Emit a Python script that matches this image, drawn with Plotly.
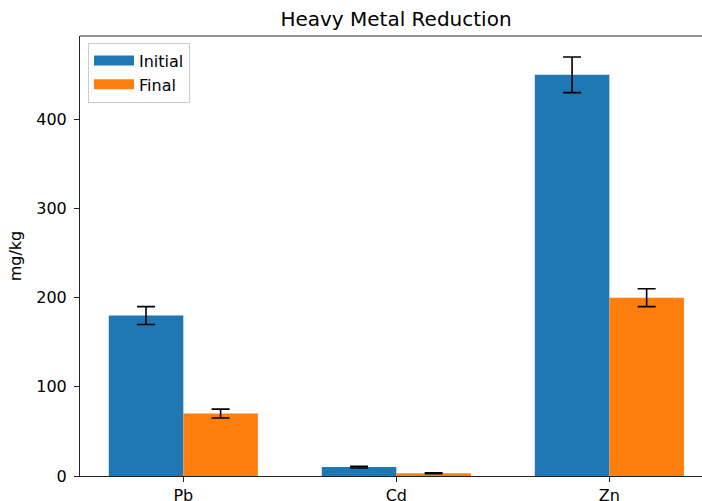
import plotly.graph_objects as go

metals = ["Pb", "Cd", "Zn"]
initial = [180, 10, 450]
initial_err = [10, 1, 20]
final = [70, 3, 200]
final_err = [5, 0.5, 10]
y_ticks = [0, 100, 200, 300, 400]
series_names = ["Initial", "Final"]
series_colors = ["#1f77b4", "#ff7f0e"]

FONT = "DejaVu Sans"
AX = "#222222"

fig = go.Figure()
for name, vals, errs, col in zip(series_names, [initial, final], [initial_err, final_err], series_colors):
    fig.add_trace(go.Bar(
        x=metals, y=vals, name=name, marker_color=col, marker_line_width=0, showlegend=False,
        error_y=dict(type="data", array=errs, visible=True, color="black", thickness=1.6, width=9),
    ))
for name, col in zip(series_names, series_colors):
    fig.add_trace(go.Scatter(
        x=[None], y=[None], mode="lines", name=name,
        line=dict(color=col, width=11), hoverinfo="skip",
    ))

fig.update_layout(
    width=718, height=501,
    margin=dict(l=80, r=0, t=36, b=25, autoexpand=False),
    paper_bgcolor="white", plot_bgcolor="white",
    barmode="group", bargap=0.3, bargroupgap=0,
    font=dict(family=FONT, size=16, color="black"),
    title=dict(text="Heavy Metal Reduction", x=316 / 638, xref="paper", xanchor="center",
               y=1 - 19 / 501, yref="container", yanchor="middle", automargin=False,
               font=dict(family=FONT, size=20, color="black")),
    legend=dict(x=8 / 638, y=0.985, xanchor="left", yanchor="top",
                bgcolor="rgba(255,255,255,0.8)", bordercolor="#cccccc", borderwidth=1,
                font=dict(family=FONT, size=16, color="black"), itemwidth=40),
    showlegend=True,
)
fig.update_xaxes(
    type="category", range=[-0.485, 2.51], showgrid=False, zeroline=False,
    showline=True, linecolor=AX, linewidth=1.1, automargin=False,
    ticks="outside", ticklen=5, tickwidth=1.1, tickcolor=AX,
    tickfont=dict(family=FONT, size=16, color="black"),
)
fig.update_yaxes(
    range=[0, 493.5], tickvals=y_ticks, showgrid=False, zeroline=False,
    showline=True, linecolor=AX, linewidth=1.1, automargin=False,
    ticks="outside", ticklen=5, tickwidth=1.1, tickcolor=AX, ticklabelstandoff=4,
    tickfont=dict(family=FONT, size=16, color="black"),
    title=dict(text="mg/kg", standoff=10, font=dict(family=FONT, size=16, color="black")),
)
fig.add_shape(type="line", xref="paper", yref="paper", x0=0, x1=1, y0=1, y1=1,
              line=dict(color=AX, width=1.1))

fig.write_html(
    "out.html",
    config={"displayModeBar": False},
    post_script=("document.body.style.margin='0';document.body.style.overflow='hidden';"
                 "document.documentElement.style.overflow='hidden';"),
)
